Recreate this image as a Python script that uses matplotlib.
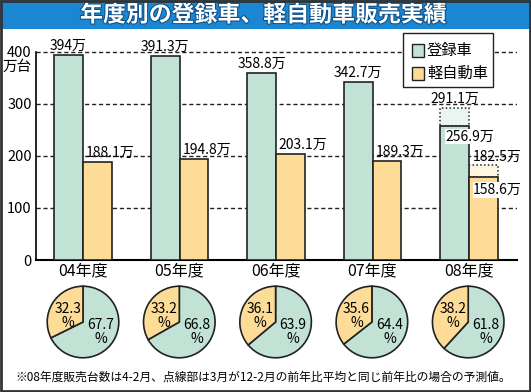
import numpy as np
import matplotlib.pyplot as plt
import matplotlib.patheffects as pe
from matplotlib.patches import Rectangle

plt.rcParams['font.family'] = ['Noto Sans CJK JP', 'DejaVu Sans']

# data (万台)
years = ['04年度', '05年度', '06年度', '07年度', '08年度']
registered = [394, 391.3, 358.8, 342.7, 256.9]
kei = [188.1, 194.8, 203.1, 189.3, 158.6]
# 08年度: 3月を含む予測値 (点線部)
registered_est = 291.1
kei_est = 182.5
reg_labels = ['394万', '391.3万', '358.8万', '342.7万', '256.9万']
kei_labels = ['188.1万', '194.8万', '203.1万', '189.3万', '158.6万']
reg_est_label = '291.1万'
kei_est_label = '182.5万'
# シェア (%)
reg_share = [67.7, 66.8, 63.9, 64.4, 61.8]
kei_share = [32.3, 33.2, 36.1, 35.6, 38.2]

GREEN = '#c2e2d6'
YELLOW = '#fddc98'
GREEN_LT = '#e9f5f1'
YELLOW_LT = '#fef6e0'
EDGE = '#222222'
BLUE = '#1b87d2'

W, H = 531, 392
fig = plt.figure(figsize=(W / 100, H / 100), dpi=100)


def box(x0, y0, x1, y1):
    # pixel box (top-left origin) -> figure fraction
    return [x0 / W, 1 - y1 / H, (x1 - x0) / W, (y1 - y0) / H]


def fx(x):
    return x / W


def fy(y):
    return 1 - y / H


# frame + title bar
fig.add_artist(Rectangle((fx(0), fy(29)), 1, 29 / H, transform=fig.transFigure,
                         facecolor=BLUE, edgecolor='none', zorder=0))
fig.add_artist(Rectangle((fx(1), fy(391)), 529 / W, 390 / H, transform=fig.transFigure,
                         facecolor='none', edgecolor='#333333', lw=2, zorder=10))
fig.text(fx(263), fy(15), '年度別の登録車、軽自動車販売実績', color='white', fontsize=16.5,
         fontweight='bold', ha='center', va='center',
         path_effects=[pe.withStroke(linewidth=1.5, foreground='#0b4f86')])

# bar chart
px_per = 208.3 / 400
ytop = 405
ax = fig.add_axes(box(36, 260 - ytop * px_per, 517, 260))
x = np.arange(len(years))
w = 0.30

ax.bar(x[4] - w / 2, registered_est - registered[4], w, bottom=registered[4],
       color=GREEN_LT, edgecolor=EDGE, lw=1.1, ls=(0, (1, 1.5)), zorder=2)
ax.bar(x[4] + w / 2, kei_est - kei[4], w, bottom=kei[4],
       color=YELLOW_LT, edgecolor=EDGE, lw=1.1, ls=(0, (1, 1.5)), zorder=2)
ax.bar(x - w / 2, registered, w, color=GREEN, edgecolor=EDGE, lw=1.2, zorder=3)
ax.bar(x + w / 2, kei, w, color=YELLOW, edgecolor=EDGE, lw=1.2, zorder=3)

ax.set_xlim(-0.487, 4.497)
ax.set_ylim(0, ytop)
ax.set_yticks([0, 100, 200, 300, 400])
ax.set_yticklabels(['0', '100', '200', '300', '400'], fontsize=10.5)
ax.set_xticks(x)
ax.set_xticklabels(years, fontsize=11.5)
ax.tick_params(length=0)
ax.tick_params(axis='y', pad=3)
ax.tick_params(axis='x', pad=2)
ax.yaxis.grid(True, color='#222222', ls=(0, (3, 2)), lw=1)
ax.set_axisbelow(True)
for s in ['top', 'right']:
    ax.spines[s].set_visible(False)
ax.spines['left'].set_bounds(0, 400)
ax.spines['left'].set_linewidth(1.2)
ax.spines['bottom'].set_linewidth(1.5)
fig.text(fx(32), fy(67), '万台', fontsize=10.5, ha='right', va='center')

lbl = dict(fontsize=10, textcoords='offset points', zorder=5)
for i in range(4):
    ax.annotate(reg_labels[i], (x[i] - w / 2, registered[i]), xytext=(0, 1.5),
                ha='center', va='bottom', **lbl)
    ax.annotate(kei_labels[i], (x[i], kei[i]), xytext=(2, 1.5),
                ha='left', va='bottom', **lbl)
ax.annotate(reg_est_label, (x[4] - w / 2, registered_est), xytext=(0, 1.5),
            ha='center', va='bottom', **lbl)
ax.annotate(reg_labels[4], (x[4] - w, registered[4]), xytext=(4, -2.5),
            ha='left', va='top', bbox=dict(fc='white', ec='none', pad=0.5), **lbl)
ax.annotate(kei_est_label, (x[4], kei_est), xytext=(3, 1),
            ha='left', va='bottom', **lbl)
ax.annotate(kei_labels[4], (x[4], kei[4]), xytext=(3, -4),
            ha='left', va='top', bbox=dict(fc='white', ec='none', pad=0.5), **lbl)

# legend
fig.add_artist(Rectangle((fx(403), fy(87)), 90 / W, 54 / H, transform=fig.transFigure,
                         facecolor='white', edgecolor=EDGE, lw=1, zorder=6))
for (yc, col, name) in [(50, GREEN, '登録車'), (73, YELLOW, '軽自動車')]:
    fig.add_artist(Rectangle((fx(412), fy(yc + 6.5)), 12 / W, 13 / H,
                             transform=fig.transFigure, facecolor=col,
                             edgecolor=EDGE, lw=1, zorder=7))
    fig.text(fx(427), fy(yc), name, fontsize=11, ha='left', va='center', zorder=7)

# share pies
r = 36.5
for i in range(len(years)):
    cx, cy = 83 + 96.3 * i, 322
    pax = fig.add_axes(box(cx - r, cy - r, cx + r, cy + r))
    pax.pie([reg_share[i], kei_share[i]], colors=[GREEN, YELLOW], startangle=90,
            counterclock=False, radius=1,
            wedgeprops=dict(edgecolor=EDGE, lw=1.2))
    pax.set_xlim(-1.02, 1.02)
    pax.set_ylim(-1.02, 1.02)
    pax.text(-0.43, 0.18, f'{kei_share[i]}\n%', ha='center', va='center',
             fontsize=10, linespacing=1.0)
    pax.text(0.49, -0.29, f'{reg_share[i]}\n%', ha='center', va='center',
             fontsize=10, linespacing=1.0)

fig.text(fx(263), fy(377),
         '※08年度販売台数は4-2月、点線部は3月が12-2月の前年比平均と同じ前年比の場合の予測値。',
         fontsize=8.5, ha='center', va='center')

fig.savefig('out.png', dpi=100)
